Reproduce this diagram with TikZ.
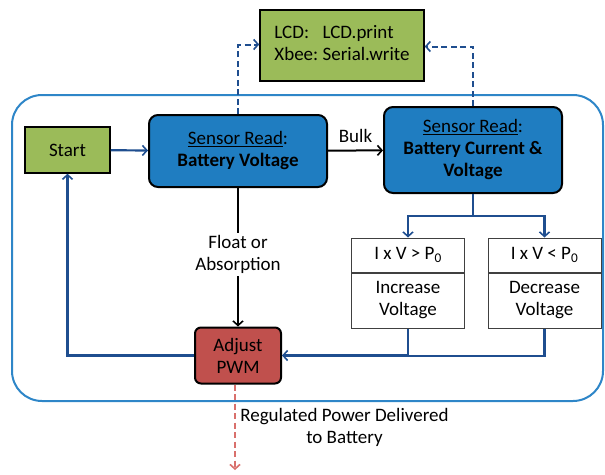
\documentclass[tikz,border=0pt]{standalone}
\usepackage{fontspec}
\setmainfont{Carlito}
\usetikzlibrary{arrows.meta}

\definecolor{boxblue}{HTML}{1F7DC1}
\definecolor{framecol}{HTML}{2E86C8}
\definecolor{linecol}{HTML}{1F4E8F}
\definecolor{boxgreen}{HTML}{9BBB59}
\definecolor{boxred}{HTML}{C0504D}
\definecolor{powerred}{HTML}{D9706C}

\tikzset{
  tip/.style={-{Straight Barb[length=4.5pt,width=10pt,line width=1.6pt]}},
  greenbox/.style={draw=black,line width=1.5pt,fill=boxgreen,minimum width=#1,inner sep=0pt},
  sensorbox/.style={draw=black,line width=2pt,fill=boxblue,rounded corners=9pt,
    minimum width=178pt,align=center,inner sep=0pt},
  testbox/.style={draw=black!75,line width=1pt,fill=white,minimum width=113pt,
    align=center,inner sep=0pt},
  flow/.style={tip,draw=linecol,line width=2.2pt},
  dataflow/.style={tip,draw=linecol,line width=2pt,dash pattern=on 6pt off 3.5pt},
  decision/.style={tip,draw=black,line width=2pt},
}

\begin{document}
\begin{tikzpicture}[x=1pt,y=-1pt,font=\fontsize{19}{22}\selectfont]
    \useasboundingbox (0,0) rectangle (605,474);
    % outer loop frame
    \draw[framecol,line width=2pt,rounded corners=30pt] (12,95) rectangle (603,401);
    % display / radio box
    \node[greenbox=164pt,minimum height=71pt] (lcd) at (342,45.5)
      {\begin{tabular}{@{}l@{\ }l@{}}LCD: & LCD.print\\ Xbee: & Serial.write\end{tabular}};
    % main nodes
    \node[greenbox=85pt,minimum height=46pt] (start) at (67.5,150) {Start};
    \node[sensorbox,minimum height=72pt] (bv) at (238,151)
      {\underline{Sensor Read}:\\ \textbf{Battery Voltage}};
    \node[sensorbox,minimum height=86pt] (bcv) at (473,150)
      {\underline{Sensor Read}:\\ \textbf{Battery Current \&}\\ \textbf{Voltage}};
    % perturb and observe boxes
    \node[testbox,minimum height=34pt] (inctop) at (408,255) {I x V > P\textsubscript{0}};
    \node[testbox,minimum height=55pt,anchor=north] (incbot) at (inctop.south) {Increase\\ Voltage};
    \node[testbox,minimum height=34pt] (dectop) at (544.5,255) {I x V < P\textsubscript{0}};
    \node[testbox,minimum height=55pt,anchor=north] (decbot) at (dectop.south) {Decrease\\ Voltage};
    % pwm
    \node[draw=black,line width=2pt,fill=boxred,rounded corners=6pt,minimum width=86pt,
      minimum height=56pt,align=center,inner sep=0pt] (pwm) at (238,355.5) {Adjust\\ PWM};
    % helper coordinates
    \coordinate (split) at (473,216);
    \coordinate (join) at (408,356);
    \coordinate (out) at (235,470);
    % connectors
    \draw[flow] (start) -- (bv);
    \draw[decision] (bv) -- node[above=4pt] {Bulk} (bcv);
    \draw[decision] (bv) -- node[pos=0.48,fill=white,align=center,inner sep=2pt] {Float or\\ Absorption} (pwm);
    \draw[flow] (bcv.south) -- (split) -| (inctop.north);
    \draw[flow] (split) -| (dectop.north);
    \draw[flow,-] (decbot.south) |- (join);
    \draw[flow] (incbot.south) |- (pwm.east);
    \draw[flow] (pwm.west) -| (start.south);
    \draw[dataflow] (bv.north) |- ([yshift=1pt]lcd.west);
    \draw[dataflow] (bcv.north) |- ([yshift=-1pt]lcd.east);
    \draw[tip,draw=powerred,line width=2pt,dash pattern=on 6pt off 3.5pt] (pwm.south -| out) -- (out)
      node[pos=0.5,right=1pt,align=center] {Regulated Power Delivered\\ to Battery};
\end{tikzpicture}
\end{document}
